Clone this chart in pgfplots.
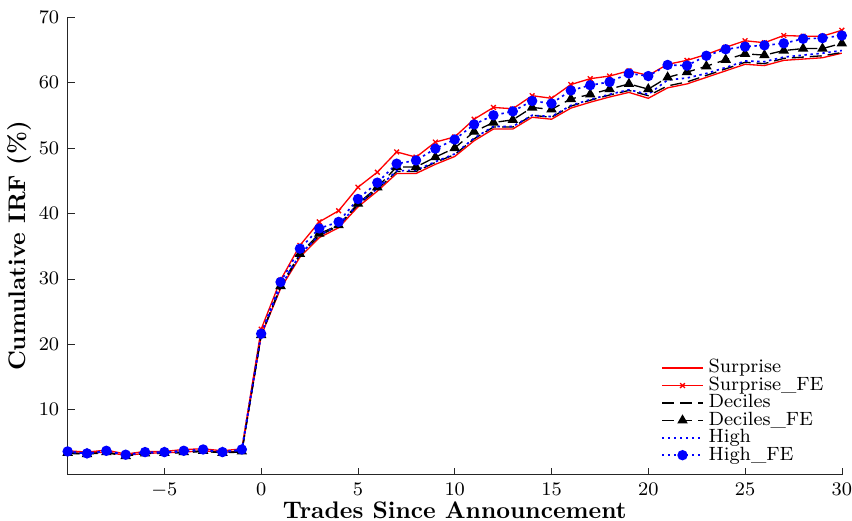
\documentclass[border=0pt]{standalone}
\usepackage{pgfplots}
\pgfplotsset{compat=1.18}
\begin{document}
\begin{tikzpicture}
\begin{axis}[
  scale only axis,
  width=323pt, height=191pt,
  xmin=-10, xmax=30, ymin=0, ymax=70,
  xtick={-5,0,5,10,15,20,25,30},
  ytick={10,20,30,40,50,60,70},
  axis lines*=left,
  axis line style={-, black!85},
  tick align=inside,
  major tick length=3pt,
  tick style={black!85},
  ticklabel style={font=\footnotesize},
  xticklabel style={inner xsep=0pt},
  yticklabel style={inner ysep=4.6pt},
  xlabel={\bfseries Trades Since Announcement},
  ylabel={\bfseries Cumulative IRF (\%)},
  xlabel style={inner ysep=1pt, yshift=3pt},
  ylabel style={yshift=-4pt},
  legend style={draw=none, fill=none, font=\footnotesize, at={(0.763,0.008)}, anchor=south west, row sep=-3.8pt, inner sep=1pt},
  legend cell align=left,
  every axis plot/.append style={line width=0.55pt},
]
\addplot[color=red, solid] coordinates {
(-10,3.4)(-9,3.3)(-8,3.5)(-7,3.0)(-6,3.3)(-5,3.4)(-4,3.5)(-3,3.7)(-2,3.5)(-1,3.6)
(0,21.3)(1,28.5)(2,33.3)(3,36.3)(4,37.8)(5,41.0)(6,43.4)(7,46.1)(8,46.1)(9,47.5)(10,48.7)
(11,51.1)(12,52.9)(13,52.9)(14,54.7)(15,54.4)(16,56.1)(17,57.0)(18,57.8)(19,58.5)(20,57.6)
(21,59.2)(22,59.8)(23,60.8)(24,61.8)(25,62.8)(26,62.6)(27,63.4)(28,63.6)(29,63.8)(30,64.5)};
\addlegendentry{Surprise}
\addplot[color=red, solid, mark=x, mark size=1.4pt] coordinates {
(-10,3.7)(-9,3.5)(-8,3.8)(-7,3.2)(-6,3.6)(-5,3.6)(-4,3.9)(-3,4.0)(-2,3.7)(-1,4.0)
(0,22.3)(1,29.8)(2,35.1)(3,38.7)(4,40.4)(5,44.0)(6,46.3)(7,49.4)(8,48.6)(9,50.9)(10,51.7)
(11,54.4)(12,56.2)(13,56.0)(14,58.0)(15,57.6)(16,59.7)(17,60.6)(18,61.0)(19,61.8)(20,61.1)
(21,62.8)(22,63.4)(23,64.3)(24,65.4)(25,66.4)(26,66.1)(27,67.2)(28,67.1)(29,67.1)(30,68.0)};
\addlegendentry{Surprise\_FE}
\addplot[color=black, dash pattern=on 5pt off 2.5pt] coordinates {
(-10,3.3)(-9,3.2)(-8,3.4)(-7,2.9)(-6,3.3)(-5,3.3)(-4,3.4)(-3,3.6)(-2,3.4)(-1,3.5)
(0,21.4)(1,28.7)(2,33.6)(3,36.6)(4,38.1)(5,41.3)(6,43.7)(7,46.4)(8,46.4)(9,47.8)(10,49.0)
(11,51.4)(12,53.2)(13,53.2)(14,55.0)(15,54.7)(16,56.4)(17,57.3)(18,58.1)(19,58.8)(20,58.0)
(21,59.5)(22,60.1)(23,61.1)(24,62.1)(25,63.1)(26,62.9)(27,63.7)(28,63.9)(29,64.1)(30,64.6)};
\addlegendentry{Deciles}
\addplot[color=black, dash pattern=on 5pt off 2.5pt, mark=triangle*, mark size=2pt, mark options={solid}] coordinates {
(-10,3.4)(-9,3.2)(-8,3.5)(-7,2.9)(-6,3.3)(-5,3.4)(-4,3.5)(-3,3.7)(-2,3.4)(-1,3.6)
(0,21.4)(1,28.9)(2,33.8)(3,36.9)(4,38.2)(5,41.5)(6,44.0)(7,47.1)(8,47.1)(9,48.6)(10,50.0)
(11,52.5)(12,53.9)(13,54.3)(14,56.2)(15,55.9)(16,57.5)(17,58.2)(18,59.0)(19,59.8)(20,59.0)
(21,60.8)(22,61.6)(23,62.5)(24,63.5)(25,64.4)(26,64.2)(27,64.9)(28,65.2)(29,65.2)(30,66.0)};
\addlegendentry{Deciles\_FE}
\addplot[color=blue, line width=0.7pt, dash pattern=on 1pt off 1.5pt] coordinates {
(-10,3.5)(-9,3.3)(-8,3.6)(-7,3.1)(-6,3.4)(-5,3.4)(-4,3.6)(-3,3.8)(-2,3.5)(-1,3.8)
(0,21.5)(1,28.8)(2,33.7)(3,36.7)(4,38.2)(5,41.4)(6,43.8)(7,46.5)(8,46.6)(9,47.9)(10,49.1)
(11,51.5)(12,53.3)(13,53.3)(14,55.0)(15,54.8)(16,56.5)(17,57.4)(18,58.2)(19,58.9)(20,58.2)
(21,60.4)(22,60.7)(23,61.4)(24,62.3)(25,63.3)(26,63.2)(27,63.9)(28,64.2)(29,64.5)(30,64.9)};
\addlegendentry{High}
\addplot[color=blue, line width=0.7pt, dash pattern=on 1pt off 1.5pt, mark=*, mark size=1.8pt, mark options={solid}] coordinates {
(-10,3.6)(-9,3.3)(-8,3.7)(-7,3.1)(-6,3.5)(-5,3.5)(-4,3.7)(-3,3.9)(-2,3.5)(-1,3.9)
(0,21.6)(1,29.5)(2,34.6)(3,37.7)(4,38.7)(5,42.2)(6,44.7)(7,47.6)(8,48.1)(9,49.9)(10,51.3)
(11,53.6)(12,55.0)(13,55.6)(14,57.2)(15,56.8)(16,58.8)(17,59.6)(18,60.1)(19,61.4)(20,61.0)
(21,62.7)(22,62.6)(23,64.1)(24,65.1)(25,65.5)(26,65.7)(27,66.0)(28,66.7)(29,66.8)(30,67.2)};
\addlegendentry{High\_FE}
\end{axis}
\end{tikzpicture}
\end{document}
